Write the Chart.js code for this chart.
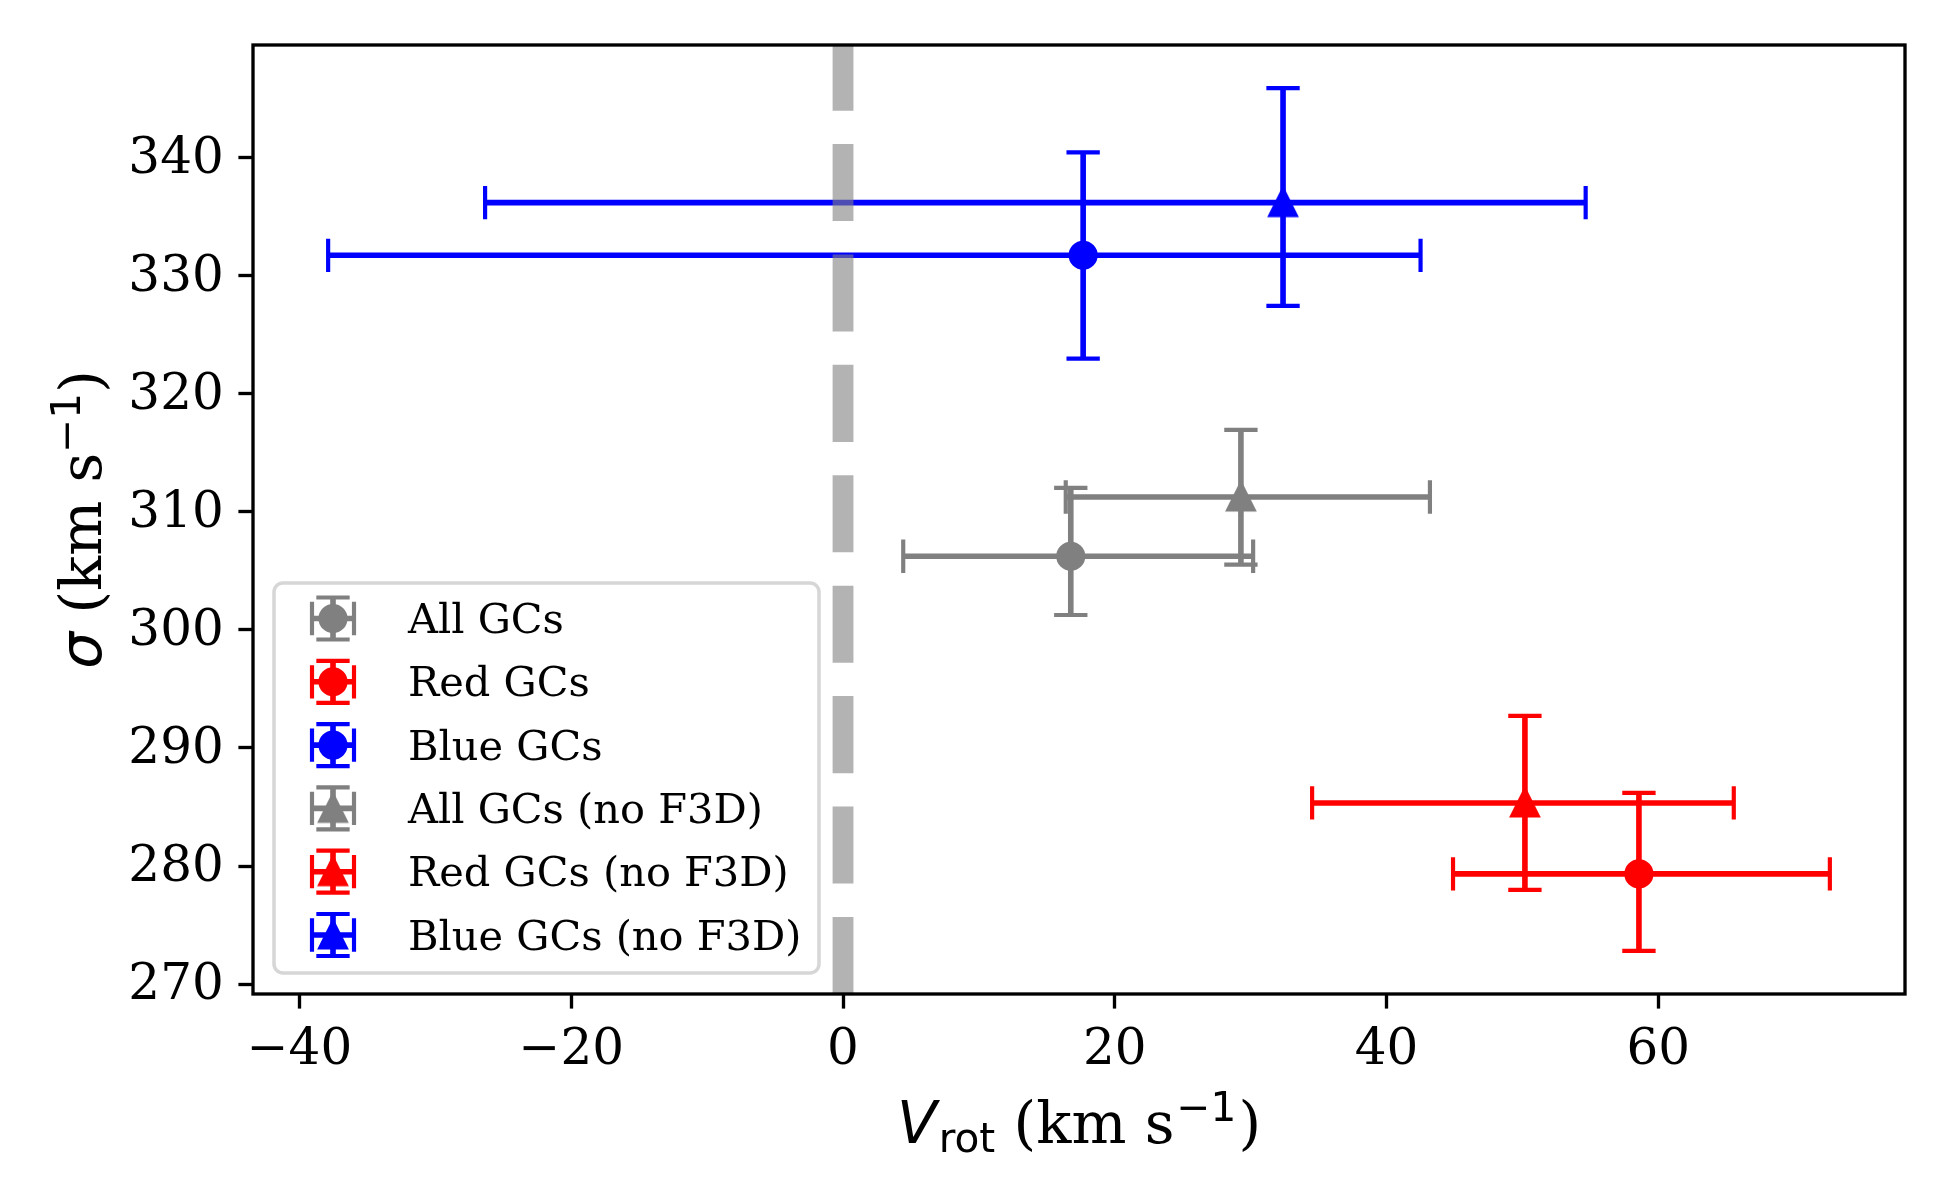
<!DOCTYPE html>
<html>
<head>
<meta charset="utf-8">
<script src="https://cdn.jsdelivr.net/npm/chart.js"></script>
<style>
  html, body { margin: 0; padding: 0; background: #fff; }
  #chart { display: block; }
</style>
</head>
<body>
<canvas id="chart" width="1950" height="1200"></canvas>
<script>
// groups, in legend order
const labels = ['All GCs', 'Red GCs', 'Blue GCs', 'All GCs (no F3D)', 'Red GCs (no F3D)', 'Blue GCs (no F3D)'];
const colors = ['gray', 'red', 'blue', 'gray', 'red', 'blue'];
const markers = ['circle', 'circle', 'circle', 'triangle', 'triangle', 'triangle'];

// V_rot (km/s) with asymmetric errors
const vrot = [16.76, 58.57, 17.67, 29.28, 50.18, 32.38];
const vrotErrLo = [12.33, 13.68, 55.56, 12.89, 15.66, 58.72];
const vrotErrHi = [13.42, 14.05, 24.83, 13.91, 15.37, 22.27];

// sigma (km/s) with asymmetric errors
const sigma = [306.23, 279.33, 331.72, 311.25, 285.34, 336.18];
const sigmaErrLo = [4.97, 6.52, 8.75, 5.72, 7.36, 8.75];
const sigmaErrHi = [5.79, 6.86, 8.72, 5.68, 7.37, 9.70];

const xTicks = [-40, -20, 0, 20, 40, 60];
const yTicks = [270, 280, 290, 300, 310, 320, 330, 340];
const xLim = [-43.42, 78.15];
const yLim = [269.16, 349.53];

const DPI = 300 / 72;          // px per point
const errLw = 1.35 * DPI;
const capLw = 1.0 * DPI;
const capHalf = 4 * DPI;

function triangleMarker(color) {
  const c = document.createElement('canvas');
  c.width = 40; c.height = 40;
  const g = c.getContext('2d');
  g.beginPath();
  g.moveTo(20, 7.5);
  g.lineTo(7.5, 32.5);
  g.lineTo(32.5, 32.5);
  g.closePath();
  g.fillStyle = color;
  g.strokeStyle = color;
  g.lineWidth = capLw;
  g.lineJoin = 'miter';
  g.fill();
  g.stroke();
  return c;
}

function drawMarker(ctx, i, x, y) {
  if (markers[i] === 'triangle') {
    const img = triangleMarker(colors[i]);
    ctx.drawImage(img, x - img.width / 2, y - img.height / 2);
  } else {
    ctx.beginPath();
    ctx.arc(x, y, 12.5, 0, Math.PI * 2);
    ctx.fillStyle = colors[i];
    ctx.strokeStyle = colors[i];
    ctx.lineWidth = capLw;
    ctx.fill();
    ctx.stroke();
  }
}

function drawCross(ctx, color, x, y, x0, x1, y0, y1) {
  ctx.strokeStyle = color;
  ctx.lineCap = 'butt';
  ctx.lineWidth = errLw;
  ctx.beginPath();
  ctx.moveTo(x0, y); ctx.lineTo(x1, y);
  ctx.moveTo(x, y0); ctx.lineTo(x, y1);
  ctx.stroke();
  ctx.lineWidth = capLw;
  ctx.beginPath();
  ctx.moveTo(x0, y - capHalf); ctx.lineTo(x0, y + capHalf);
  ctx.moveTo(x1, y - capHalf); ctx.lineTo(x1, y + capHalf);
  ctx.moveTo(x - capHalf, y0); ctx.lineTo(x + capHalf, y0);
  ctx.moveTo(x - capHalf, y1); ctx.lineTo(x + capHalf, y1);
  ctx.stroke();
}

const errorBars = {
  id: 'errorBars',
  beforeDatasetsDraw(chart) {
    const { ctx, scales: { x, y } } = chart;
    ctx.save();
    for (let i = 0; i < labels.length; i++) {
      drawCross(ctx, colors[i],
        x.getPixelForValue(vrot[i]), y.getPixelForValue(sigma[i]),
        x.getPixelForValue(vrot[i] - vrotErrLo[i]), x.getPixelForValue(vrot[i] + vrotErrHi[i]),
        y.getPixelForValue(sigma[i] + sigmaErrHi[i]), y.getPixelForValue(sigma[i] - sigmaErrLo[i]));
    }
    ctx.restore();
  }
};

function drawParts(ctx, parts, cx, baseline) {
  let w = 0;
  for (const p of parts) { ctx.font = p.f; p.w = ctx.measureText(p.t).width + (p.gap || 0); w += p.w; }
  let xx = cx - w / 2;
  ctx.textBaseline = 'alphabetic';
  ctx.textAlign = 'left';
  for (const p of parts) {
    ctx.font = p.f;
    ctx.fillText(p.t, xx, baseline + p.dy);
    xx += p.w;
  }
}

const frameAndText = {
  id: 'frameAndText',
  afterDraw(chart) {
    const { ctx, chartArea: a } = chart;
    ctx.save();
    // spines
    ctx.strokeStyle = '#000';
    ctx.lineWidth = 0.8 * DPI;
    ctx.strokeRect(a.left, a.top, a.right - a.left, a.bottom - a.top);

    // axis titles
    ctx.fillStyle = '#000';
    const big = 58, small = 40.6;
    drawParts(ctx, [
      { t: 'V', f: `italic ${big}px "DejaVu Sans"`, dy: 0, gap: 2 },
      { t: 'rot', f: `${small}px "DejaVu Sans"`, dy: 9 },
      { t: ' (km s', f: `${big}px "DejaVu Serif"`, dy: 0, gap: 2 },
      { t: '\u22121', f: `${small}px "DejaVu Sans"`, dy: -22, gap: 2 },
      { t: ')', f: `${big}px "DejaVu Serif"`, dy: 0 }
    ], (a.left + a.right) / 2, 1143);

    ctx.save();
    ctx.translate(101, (a.top + a.bottom) / 2);
    ctx.rotate(-Math.PI / 2);
    drawParts(ctx, [
      { t: '\u03c3', f: `italic ${big}px "DejaVu Sans"`, dy: 0 },
      { t: ' (km s', f: `${big}px "DejaVu Serif"`, dy: 0 },
      { t: '\u22121', f: `${small}px "DejaVu Sans"`, dy: -21 },
      { t: ')', f: `${big}px "DejaVu Serif"`, dy: 0 }
    ], 0, 0);
    ctx.restore();

    // legend, lower left inside the axes
    const bx = a.left + 21, bw = 545, bh = 390;
    const by = a.bottom - 21 - bh;
    ctx.beginPath();
    ctx.roundRect(bx, by, bw, bh, 9);
    ctx.fillStyle = 'rgba(255,255,255,0.8)';
    ctx.fill();
    ctx.strokeStyle = 'rgba(204,204,204,0.8)';
    ctx.lineWidth = 3.5;
    ctx.stroke();

    const step = 63.3;
    const cx = bx + 59;
    for (let i = 0; i < labels.length; i++) {
      const cy = by + 35.5 + i * step;
      drawCross(ctx, colors[i], cx, cy, cx - 21, cx + 21, cy - 21, cy + 21);
      drawMarker(ctx, i, cx, cy);
      ctx.fillStyle = '#000';
      ctx.font = '41.5px "DejaVu Serif"';
      ctx.textAlign = 'left';
      ctx.textBaseline = 'alphabetic';
      ctx.fillText(labels[i], bx + 134, cy + 14.5);
    }
    ctx.restore();
  }
};

const tickFont = { family: 'DejaVu Serif', size: 50 };
const fmt = v => (v < 0 ? '\u2212' + Math.abs(v) : String(v));

const datasets = labels.map((name, i) => ({
  label: name,
  data: [{ x: vrot[i], y: sigma[i] }],
  pointStyle: markers[i] === 'triangle' ? triangleMarker(colors[i]) : 'circle',
  pointRadius: 12.5,
  pointBorderWidth: capLw,
  backgroundColor: colors[i],
  borderColor: colors[i]
}));

datasets.push({
  type: 'line',
  label: 'zero',
  data: [{ x: 0, y: yLim[0] }, { x: 0, y: yLim[1] }],
  showLine: true,
  borderColor: 'rgba(128,128,128,0.6)',
  borderWidth: 5 * DPI,
  borderDash: [18.5 * DPI, 8 * DPI],
  pointRadius: 0
});

new Chart(document.getElementById('chart'), {
  type: 'scatter',
  data: { datasets },
  options: {
    responsive: false,
    devicePixelRatio: 1,
    animation: false,
    layout: { padding: { left: 0, top: 45, right: 45, bottom: 0 } },
    plugins: { legend: { display: false }, tooltip: { enabled: false } },
    scales: {
      x: {
        type: 'linear',
        min: xLim[0],
        max: xLim[1],
        afterBuildTicks: s => { s.ticks = xTicks.map(v => ({ value: v })); },
        afterFit: s => { s.height = 206; },
        ticks: { font: tickFont, color: '#000', padding: 12, maxRotation: 0, callback: fmt },
        grid: { drawOnChartArea: false, tickLength: 14.6, tickWidth: 0.8 * DPI, tickColor: '#000' },
        border: { display: false }
      },
      y: {
        type: 'linear',
        min: yLim[0],
        max: yLim[1],
        afterBuildTicks: s => { s.ticks = yTicks.map(v => ({ value: v })); },
        afterFit: s => { s.width = 253; },
        ticks: { font: tickFont, color: '#000', padding: 14.6, labelOffset: 2, callback: fmt },
        grid: { drawOnChartArea: false, tickLength: 14.6, tickWidth: 0.8 * DPI, tickColor: '#000' },
        border: { display: false }
      }
    }
  },
  plugins: [errorBars, frameAndText]
});
</script>
</body>
</html>
